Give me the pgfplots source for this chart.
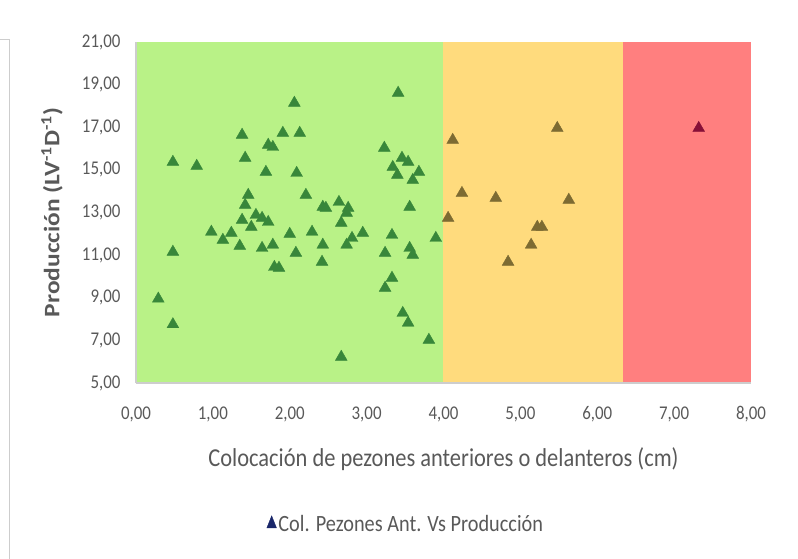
\documentclass[border=0pt]{standalone}
\usepackage{fontspec}
\setmainfont{Carlito}[FakeStretch=0.87]
\newfontfamily\ylabfont{Carlito}
\usepackage{pgfplots}
\pgfplotsset{compat=1.18}
\definecolor{txt}{RGB}{89,89,89}
\definecolor{gbg}{RGB}{185,242,135}
\definecolor{ybg}{RGB}{255,219,125}
\definecolor{rbg}{RGB}{255,127,127}
\definecolor{gmk}{RGB}{56,135,58}
\definecolor{ymk}{RGB}{125,107,50}
\definecolor{rmk}{RGB}{135,15,55}
\definecolor{nav}{RGB}{25,38,105}
\definecolor{axl}{RGB}{205,205,205}
\begin{document}
\begin{tikzpicture}
\useasboundingbox (-136bp,-176bp) rectangle (662bp,383bp);
\draw[axl, line width=1bp] (-136bp,343bp) -- (-126bp,343bp) -- (-126bp,-176bp);
\begin{axis}[
  at={(0,0)}, anchor=south west,
  scale only axis, width=615bp, height=341bp,
  xmin=0, xmax=8, ymin=5, ymax=21,
  xtick={0,1,...,8}, ytick={5,7,...,21},
  axis x line*=bottom, axis y line*=left,
  axis line style={axl, line width=1.2bp, -},
  axis on top,
  major tick length=0pt,
  tick label style={font=\fontsize{19.5}{22}\selectfont, text=txt},
  xticklabel style={yshift=-20bp},
  yticklabel style={xshift=-12bp},
  /pgf/number format/.cd, fixed, fixed zerofill, precision=2, use comma, assume math mode=true,
  /pgfplots/.cd,
  xlabel={Colocación de pezones anteriores o delanteros (cm)},
  xlabel style={font=\fontsize{25.9}{30}\selectfont, text=txt, at={(0.5,0)}, anchor=center, yshift=-76bp},
  ylabel={\scalebox{1}[0.87]{\ylabfont\bfseries Producción (LV\textsuperscript{-1}D\textsuperscript{-1})}},
  ylabel style={font=\fontsize{25.5}{30}\selectfont, text=txt, at={(axis description cs:-0.1366,0.5)}, anchor=center},
  legend style={draw=none, fill=none, at={(0.439,-0.413)}, anchor=center,
    font=\fontsize{23.4}{27}\selectfont, text=txt, inner sep=0pt},
  legend cell align=left,
]
\addplot[fill=gbg, draw=none, forget plot] coordinates {(0,21) (3.99,21)} \closedcycle;
\addplot[fill=ybg, draw=none, forget plot] coordinates {(3.99,21) (6.34,21)} \closedcycle;
\addplot[fill=rbg, draw=none, forget plot] coordinates {(6.34,21) (8,21)} \closedcycle;
\addplot[only marks, mark=triangle*, mark size=6.8bp, color=gmk, forget plot] coordinates {
(0.29,8.95) (0.48,7.75) (0.48,11.15) (0.48,15.37) (0.79,15.18) (0.98,12.09)
(1.13,11.71) (1.24,12.04) (1.35,11.43) (1.38,16.64) (1.42,15.56) (1.46,13.82)
(1.42,13.35) (1.38,12.65) (1.50,12.32) (1.56,12.88) (1.64,12.74) (1.72,12.55)
(1.64,11.33) (1.78,11.48) (1.69,14.90) (1.72,16.17) (1.78,16.07) (1.91,16.73)
(1.80,10.44) (1.86,10.40) (2.06,18.14) (2.13,16.73) (2.09,14.85) (2.21,13.82)
(2.00,11.99) (2.08,11.10) (2.29,12.09) (2.43,13.26) (2.47,13.21) (2.43,11.48)
(2.42,10.68) (2.64,13.49) (2.76,13.21) (2.74,12.98) (2.67,12.51) (2.74,11.48)
(2.81,11.80) (2.95,12.04) (2.67,6.22) (3.33,11.94) (3.24,11.10) (3.56,11.33)
(3.60,11.01) (3.90,11.80) (3.33,9.93) (3.24,9.46) (3.47,8.28) (3.54,7.82)
(3.81,7.02) (3.41,18.61) (3.23,16.03) (3.46,15.56) (3.54,15.37) (3.34,15.13)
(3.40,14.76) (3.68,14.90) (3.60,14.52) (3.56,13.26)
};
\addplot[only marks, mark=triangle*, mark size=6.8bp, color=ymk, forget plot] coordinates {
(4.12,16.40) (4.24,13.91) (4.06,12.74) (4.68,13.68) (5.63,13.59) (5.48,16.96)
(5.22,12.32) (5.28,12.32) (5.14,11.48) (4.84,10.68)
};
\addplot[only marks, mark=triangle*, mark size=6.8bp, color=rmk, forget plot] coordinates {
(7.32,16.96)
};
\addlegendimage{only marks, mark=triangle*, mark size=5.5bp, mark options={yscale=1.45}, color=nav}
\addlegendentry{Col. Pezones Ant. Vs Producción}
\end{axis}
\end{tikzpicture}
\end{document}
